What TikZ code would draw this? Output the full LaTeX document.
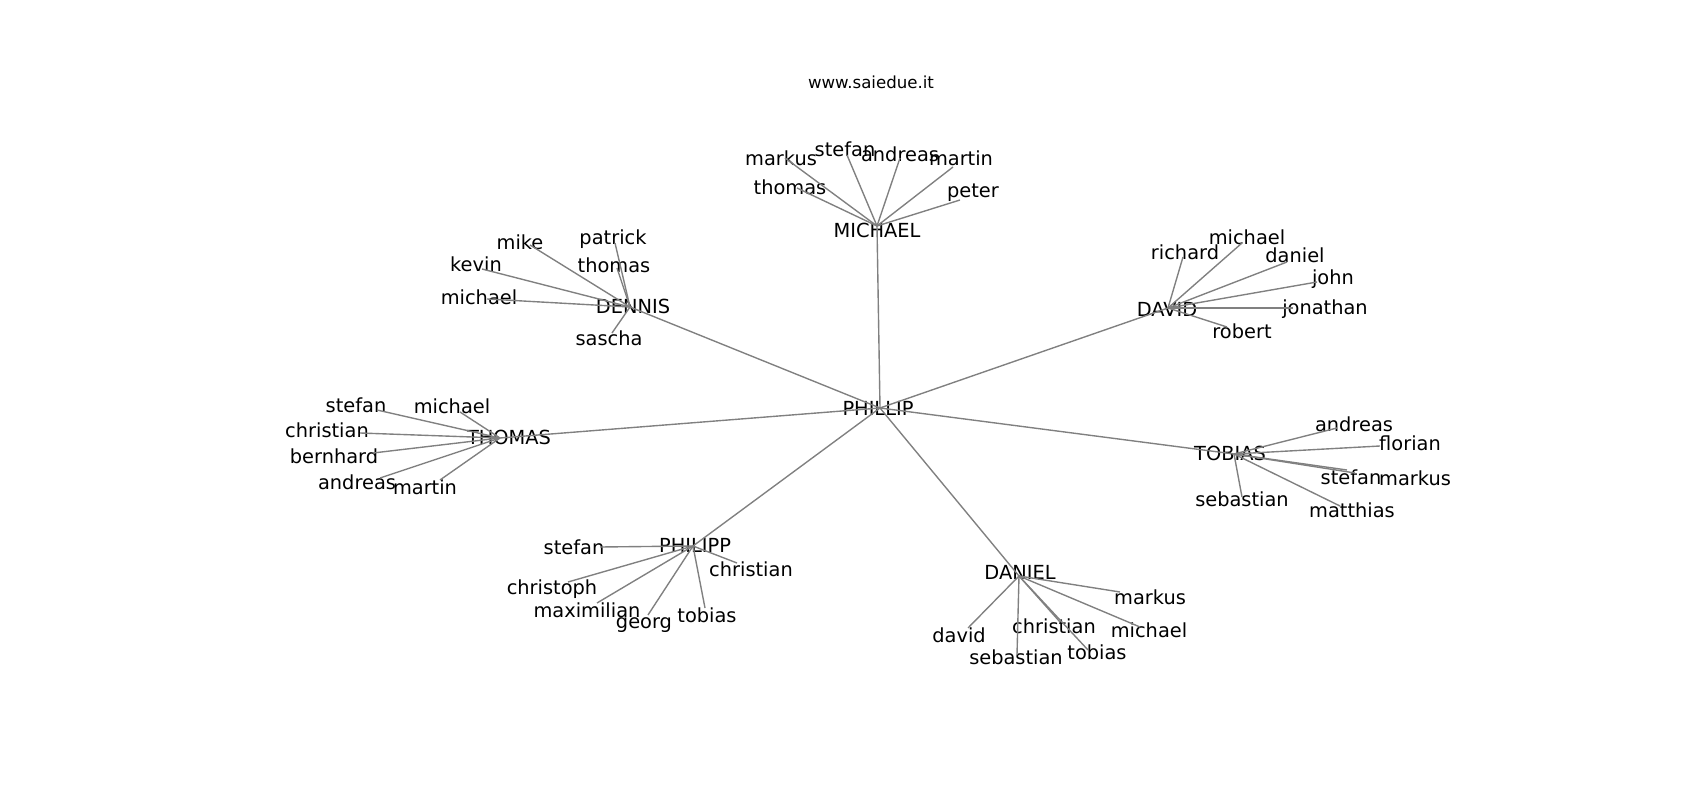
\documentclass[tikz,border=0pt]{standalone}
\usepackage{fontspec}
\setmainfont{DejaVu Sans}
\begin{document}
\begin{tikzpicture}[x=0.01in, y=-0.01in,
        lbl/.style={font=\fontsize{14}{16}\selectfont, inner sep=0pt, text height=10.2pt, text depth=0pt},
        edge/.style={gray, line width=1pt}]
    \useasboundingbox (0,0) rectangle (1700,800);
    \node[lbl, font=\fontsize{12}{14}\selectfont, text height=8.8pt] (title) at (871,82) {www.saiedue.it};

    % centre and hubs
    \coordinate (phillip) at (880,408); \node[lbl] (phillip-t) at (878,408) {PHILLIP};
    \coordinate (michael) at (877,226); \node[lbl] (michael-t) at (877,230) {MICHAEL};
    \coordinate (dennis) at (630,307); \node[lbl] (dennis-t) at (633,306) {DENNIS};
    \coordinate (david) at (1168,308); \node[lbl] (david-t) at (1167,309) {DAVID};
    \coordinate (thomas) at (500,438); \node[lbl] (thomas-t) at (509,437) {THOMAS};
    \coordinate (tobias) at (1234,454); \node[lbl] (tobias-t) at (1230,453) {TOBIAS};
    \coordinate (philipp) at (693,546); \node[lbl] (philipp-t) at (695,545) {PHILIPP};
    \coordinate (daniel) at (1019,576); \node[lbl] (daniel-t) at (1020,572) {DANIEL};

    % MICHAEL
    \coordinate (michael-markus) at (785,158); \node[lbl] (michael-markus-t) at (781,158) {markus};
    \coordinate (michael-stefan) at (847,155); \node[lbl] (michael-stefan-t) at (845,149) {stefan};
    \coordinate (michael-andreas) at (900,158); \node[lbl] (michael-andreas-t) at (900,154) {andreas};
    \coordinate (michael-martin) at (953,167); \node[lbl] (michael-martin-t) at (961,158) {martin};
    \coordinate (michael-thomas) at (797,188); \node[lbl] (michael-thomas-t) at (790,187) {thomas};
    \coordinate (michael-peter) at (960,200); \node[lbl] (michael-peter-t) at (973,190) {peter};

    % DENNIS
    \coordinate (dennis-mike) at (530,245); \node[lbl] (dennis-mike-t) at (520,242) {mike};
    \coordinate (dennis-patrick) at (615,243); \node[lbl] (dennis-patrick-t) at (613,237) {patrick};
    \coordinate (dennis-kevin) at (482,269); \node[lbl] (dennis-kevin-t) at (476,264) {kevin};
    \coordinate (dennis-thomas) at (617,268); \node[lbl] (dennis-thomas-t) at (614,265) {thomas};
    \coordinate (dennis-michael) at (487,299); \node[lbl] (dennis-michael-t) at (479,297) {michael};
    \coordinate (dennis-sascha) at (612,333); \node[lbl] (dennis-sascha-t) at (609,338) {sascha};

    % DAVID
    \coordinate (david-richard) at (1183,257); \node[lbl] (david-richard-t) at (1185,252) {richard};
    \coordinate (david-michael) at (1242,243); \node[lbl] (david-michael-t) at (1247,237) {michael};
    \coordinate (david-daniel) at (1287,262); \node[lbl] (david-daniel-t) at (1295,255) {daniel};
    \coordinate (david-john) at (1317,282); \node[lbl] (david-john-t) at (1333,277) {john};
    \coordinate (david-jonathan) at (1293,308); \node[lbl] (david-jonathan-t) at (1325,307) {jonathan};
    \coordinate (david-robert) at (1227,327); \node[lbl] (david-robert-t) at (1242,331) {robert};

    % THOMAS
    \coordinate (thomas-stefan) at (377,410); \node[lbl] (thomas-stefan-t) at (356,405) {stefan};
    \coordinate (thomas-michael) at (460,412); \node[lbl] (thomas-michael-t) at (452,406) {michael};
    \coordinate (thomas-christian) at (360,433); \node[lbl] (thomas-christian-t) at (327,430) {christian};
    \coordinate (thomas-bernhard) at (373,453); \node[lbl] (thomas-bernhard-t) at (334,456) {bernhard};
    \coordinate (thomas-andreas) at (380,478); \node[lbl] (thomas-andreas-t) at (357,482) {andreas};
    \coordinate (thomas-martin) at (440,480); \node[lbl] (thomas-martin-t) at (425,487) {martin};

    % TOBIAS
    \coordinate (tobias-andreas) at (1337,428); \node[lbl] (tobias-andreas-t) at (1354,424) {andreas};
    \coordinate (tobias-florian) at (1380,446); \node[lbl] (tobias-florian-t) at (1410,443) {florian};
    \coordinate (tobias-stefan) at (1347,470); \node[lbl] (tobias-stefan-t) at (1351,477) {stefan};
    \coordinate (tobias-markus) at (1355,473); \node[lbl] (tobias-markus-t) at (1415,478) {markus};
    \coordinate (tobias-sebastian) at (1242,497); \node[lbl] (tobias-sebastian-t) at (1242,499) {sebastian};
    \coordinate (tobias-matthias) at (1340,506); \node[lbl] (tobias-matthias-t) at (1352,510) {matthias};

    % PHILIPP
    \coordinate (philipp-stefan) at (600,547); \node[lbl] (philipp-stefan-t) at (574,547) {stefan};
    \coordinate (philipp-christian) at (737,563); \node[lbl] (philipp-christian-t) at (751,569) {christian};
    \coordinate (philipp-christoph) at (568,582); \node[lbl] (philipp-christoph-t) at (552,587) {christoph};
    \coordinate (philipp-maximilian) at (597,603); \node[lbl] (philipp-maximilian-t) at (587,610) {maximilian};
    \coordinate (philipp-georg) at (648,615); \node[lbl] (philipp-georg-t) at (644,621) {georg};
    \coordinate (philipp-tobias) at (705,608); \node[lbl] (philipp-tobias-t) at (707,615) {tobias};

    % DANIEL
    \coordinate (daniel-markus) at (1120,592); \node[lbl] (daniel-markus-t) at (1150,597) {markus};
    \coordinate (daniel-christian) at (1060,622); \node[lbl] (daniel-christian-t) at (1054,626) {christian};
    \coordinate (daniel-michael) at (1140,627); \node[lbl] (daniel-michael-t) at (1149,630) {michael};
    \coordinate (daniel-david) at (968,628); \node[lbl] (daniel-david-t) at (959,635) {david};
    \coordinate (daniel-sebastian) at (1017,655); \node[lbl] (daniel-sebastian-t) at (1016,657) {sebastian};
    \coordinate (daniel-tobias) at (1088,650); \node[lbl] (daniel-tobias-t) at (1097,652) {tobias};

    \foreach \h in {michael,dennis,david,thomas,tobias,philipp,daniel} \draw[edge] (phillip) -- (\h);
    \foreach \p in {markus,stefan,andreas,martin,thomas,peter} \draw[edge] (michael) -- (michael-\p);
    \foreach \p in {mike,patrick,kevin,thomas,michael,sascha} \draw[edge] (dennis) -- (dennis-\p);
    \foreach \p in {richard,michael,daniel,john,jonathan,robert} \draw[edge] (david) -- (david-\p);
    \foreach \p in {stefan,michael,christian,bernhard,andreas,martin} \draw[edge] (thomas) -- (thomas-\p);
    \foreach \p in {andreas,florian,stefan,markus,sebastian,matthias} \draw[edge] (tobias) -- (tobias-\p);
    \foreach \p in {stefan,christian,christoph,maximilian,georg,tobias} \draw[edge] (philipp) -- (philipp-\p);
    \foreach \p in {markus,christian,michael,david,sebastian,tobias} \draw[edge] (daniel) -- (daniel-\p);
\end{tikzpicture}
\end{document}
